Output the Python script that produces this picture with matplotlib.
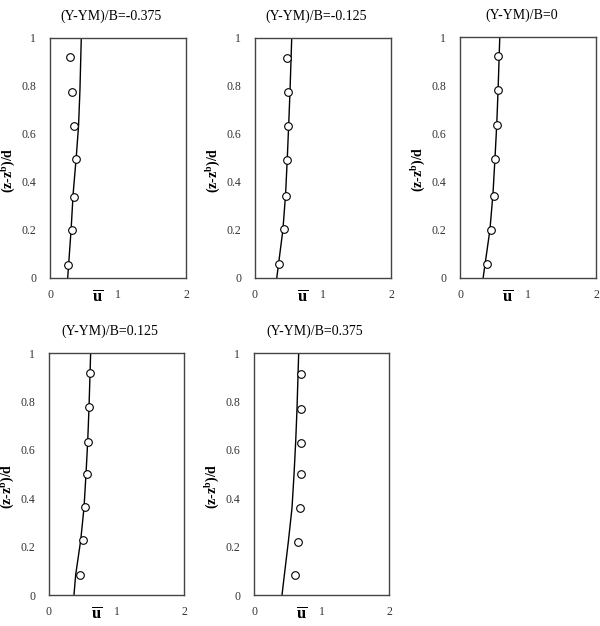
import matplotlib
matplotlib.use("Agg")
import matplotlib.pyplot as plt

plt.rcParams['font.family'] = ['Liberation Serif', 'DejaVu Serif']
plt.rcParams['mathtext.fontset'] = 'custom'
plt.rcParams['mathtext.rm'] = 'Liberation Serif'
plt.rcParams['mathtext.bf'] = 'Liberation Serif:bold'
plt.rcParams['mathtext.it'] = 'Liberation Serif:italic'

titles = ["(Y-YM)/B=-0.375", "(Y-YM)/B=-0.125", "(Y-YM)/B=0",
          "(Y-YM)/B=0.125", "(Y-YM)/B=0.375"]

# measured points (circles)
pts_y = [
    [0.053, 0.20, 0.339, 0.496, 0.635, 0.775, 0.922],
    [0.06, 0.203, 0.343, 0.493, 0.635, 0.775, 0.917],
    [0.058, 0.20, 0.34, 0.493, 0.633, 0.78, 0.921],
    [0.083, 0.227, 0.362, 0.501, 0.632, 0.777, 0.917],
    [0.081, 0.221, 0.36, 0.499, 0.63, 0.769, 0.913],
]
pts_u = [
    [0.27, 0.33, 0.36, 0.38, 0.35, 0.33, 0.30],
    [0.35, 0.43, 0.46, 0.465, 0.485, 0.485, 0.475],
    [0.40, 0.46, 0.495, 0.52, 0.54, 0.555, 0.555],
    [0.459, 0.51, 0.533, 0.563, 0.578, 0.593, 0.603],
    [0.603, 0.652, 0.681, 0.692, 0.696, 0.696, 0.696],
]

# model profile (line)
line_y = [
    [0.0, 0.2, 0.35, 0.5, 0.635, 0.78, 1.0],
    [0.0, 0.2, 0.35, 0.5, 0.635, 0.78, 1.0],
    [0.0, 0.2, 0.35, 0.5, 0.635, 0.78, 1.0],
    [0.0, 0.083, 0.227, 0.362, 0.5, 0.632, 0.777, 1.0],
    [0.0, 0.081, 0.221, 0.36, 0.499, 0.63, 0.769, 1.0],
]
line_u = [
    [0.26, 0.31, 0.34, 0.385, 0.42, 0.44, 0.46],
    [0.32, 0.41, 0.45, 0.475, 0.495, 0.515, 0.54],
    [0.34, 0.44, 0.485, 0.515, 0.54, 0.56, 0.585],
    [0.37, 0.395, 0.47, 0.519, 0.548, 0.573, 0.593, 0.617],
    [0.415, 0.449, 0.509, 0.563, 0.593, 0.617, 0.637, 0.662],
]

xticks = [0, 1, 2]
yticks = [0, 0.2, 0.4, 0.6, 0.8, 1]
ytick_labels = ["0", "0.2", "0.4", "0.6", "0.8", "1"]

W, H = 600, 626
fig = plt.figure(figsize=(6, 6.26), dpi=100)

# axes boxes in pixels: left, top, right, bottom
boxes = [
    (50, 38, 186, 278),
    (255, 38, 391, 278),
    (460, 37, 596, 278),
    (49, 353, 184, 595),
    (254, 353, 389, 595),
]

for i, (l, t, r, b) in enumerate(boxes):
    ax = fig.add_axes([l / W, (H - b) / H, (r - l) / W, (b - t) / H])
    ax.plot(line_u[i], line_y[i], color='black', lw=1.0)
    ax.plot(pts_u[i], pts_y[i], linestyle='none', marker='o', ms=5.5,
            mfc='white', mec='black', mew=0.8)
    ax.set_xlim(0, 2)
    ax.set_ylim(0, 1)
    ax.set_xticks(xticks)
    ax.set_xticklabels([str(v) for v in xticks])
    ax.set_yticks(yticks)
    ax.set_yticklabels(ytick_labels)
    ax.tick_params(length=0, labelsize=8.5, colors='#333333')
    ax.tick_params(axis='x', pad=8)
    ax.tick_params(axis='y', pad=10)
    for s in ax.spines.values():
        s.set_color('#444444')
        s.set_linewidth(1.0)
    ax.set_title(titles[i], fontsize=10, x=0.45, pad=13)
    ax.set_ylabel(r'$\mathbf{(z\text{-}z^{b})/d}$', fontsize=10)
    ax.yaxis.set_label_coords(-0.235, 0.45)
    ax.text(0.7, -0.08, r'$\mathbf{\overline{u}}$', transform=ax.get_xaxis_transform(),
            ha='center', va='center', fontsize=12)

fig.savefig("out.png", dpi=100)
